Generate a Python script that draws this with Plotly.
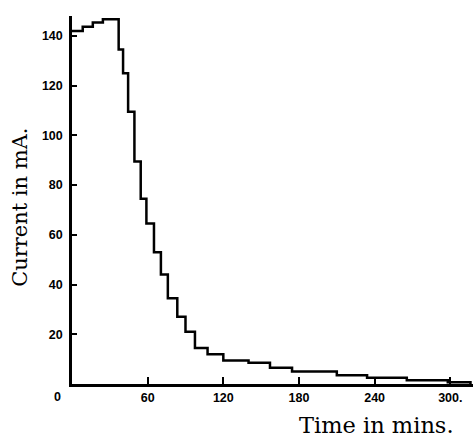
import plotly.graph_objects as go

# Step start times (min) and current (mA) held until next step
step_times = [0, 8.5, 16.5, 24.5, 37, 40.5, 44.5, 49.5, 54.5, 59, 65, 70.5, 76,
              83.5, 90, 97.5, 107.5, 120, 140, 157, 174.5, 210, 234, 265.5, 298, 316]
currents = [142, 143.7, 145.4, 146.7, 134.5, 125, 109.5, 89.5, 74.5, 64.5, 53, 44,
            34.5, 27, 21, 14.5, 12, 9.5, 8.5, 6.5, 5, 3.5, 2.5, 1.5, 0.7, 0]

x_ticks = [60, 120, 180, 240, 300]
x_ticklabels = ["60", "120", "180", "240", "300."]
y_ticks = [20, 40, 60, 80, 100, 120, 140]

fig = go.Figure()
fig.add_trace(go.Scatter(
    x=step_times, y=currents, mode="lines",
    line=dict(shape="hv", color="black", width=2.5),
    hoverinfo="skip", showlegend=False,
))

tickfont = dict(family="Liberation Sans", size=12.5, color="black", weight="bold")

fig.update_layout(
    width=475, height=439,
    margin=dict(l=72, r=2, t=16, b=55),
    paper_bgcolor="white", plot_bgcolor="white",
    xaxis=dict(range=[0, 318], tickvals=x_ticks, ticktext=x_ticklabels,
               ticks="inside", ticklen=7, tickwidth=2, tickcolor="black",
               showline=True, linecolor="black", linewidth=2.5, automargin=False,
               showgrid=False, zeroline=False, tickfont=tickfont),
    yaxis=dict(range=[0, 148], tickvals=y_ticks,
               ticks="inside", ticklen=5, tickwidth=2, tickcolor="black",
               showline=True, linecolor="black", linewidth=2.5, automargin=False,
               showgrid=False, zeroline=False, tickfont=tickfont, ticklabelstandoff=4),
    annotations=[
        dict(text="0", xref="paper", yref="paper", x=-0.035, y=-0.035,
             showarrow=False, font=tickfont, xanchor="center", yanchor="middle"),
        dict(text="Time in mins.", xref="paper", yref="paper", x=0.76, y=-0.152,
             showarrow=False, xanchor="center", yanchor="bottom",
             font=dict(family="DejaVu Serif", size=22.5, color="black")),
        dict(text="Current in mA.", xref="paper", yref="paper", x=-0.13, y=0.481,
             showarrow=False, xanchor="center", yanchor="middle", textangle=-90,
             font=dict(family="DejaVu Serif", size=21, color="black")),
    ],
)

fig.write_html("out.html", config={"displayModeBar": False},
               post_script="document.body.style.margin='0';")
